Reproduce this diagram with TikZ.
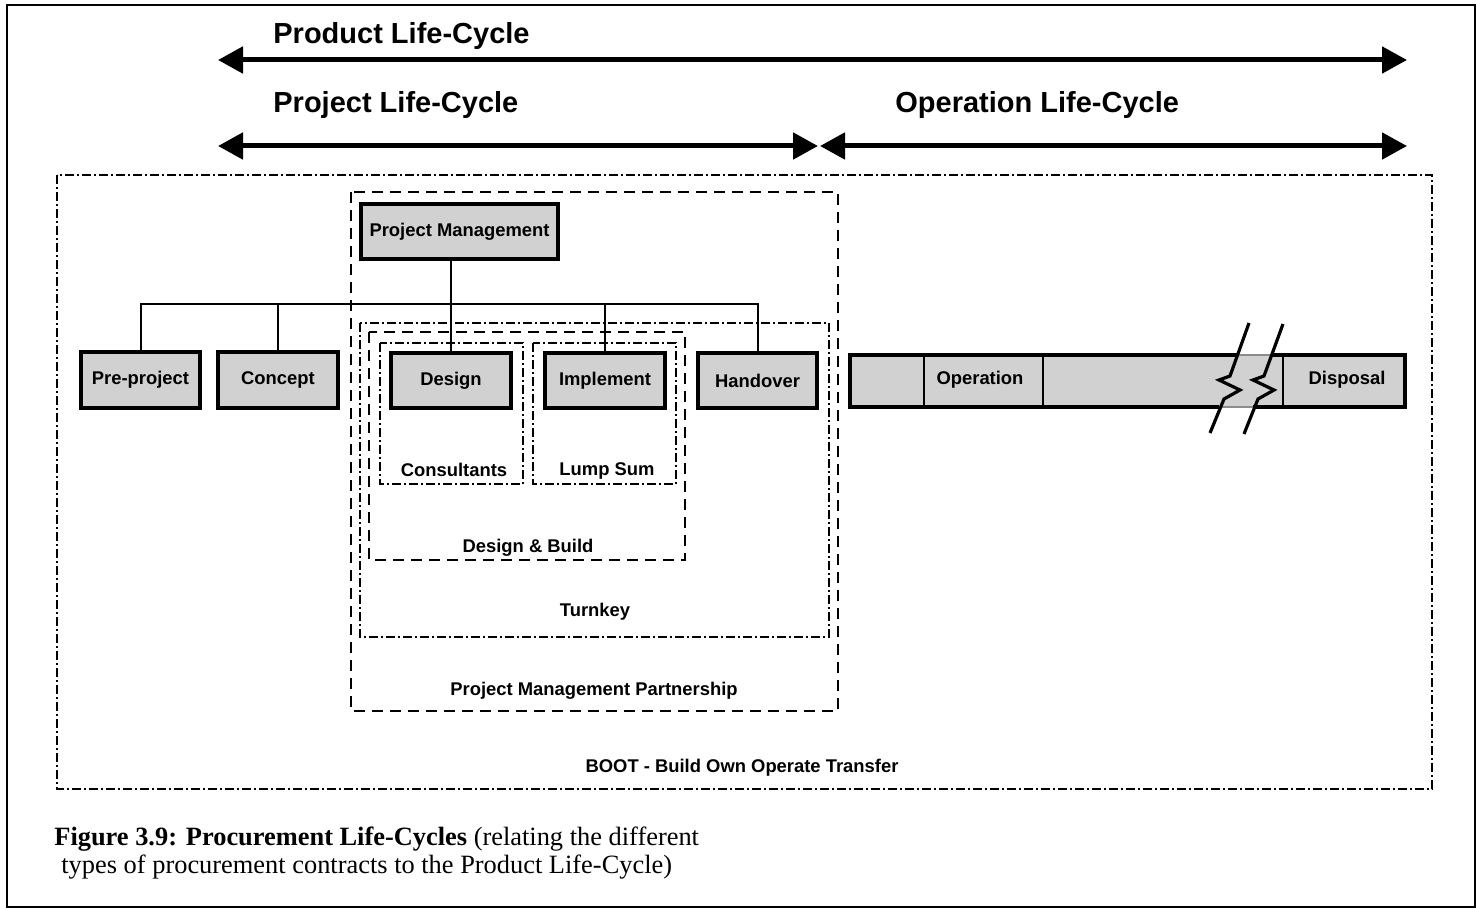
\documentclass[tikz,border=0pt]{standalone}
\usepackage{fontspec}
\setmainfont{Liberation Serif}
\newfontfamily\labelfont{Liberation Sans}
\usetikzlibrary{arrows.meta}
\begin{document}
\begin{tikzpicture}[x=0.5pt,y=-0.5pt,
  phase/.style={draw, line width=2pt, fill=black!18, inner sep=0pt,
    font=\labelfont\bfseries\fontsize{9.2}{11}\selectfont},
  lbl/.style={inner sep=0pt, font=\labelfont\bfseries\fontsize{9.2}{11}\selectfont},
  head/.style={inner sep=0pt, anchor=base west,
    font=\labelfont\bfseries\fontsize{14.5}{17}\selectfont},
  span/.style={line width=2.5pt,
    {Triangle[length=12.5pt,width=13pt]}-{Triangle[length=12.5pt,width=13pt]}},
  link/.style={line width=1pt},
  dashbox/.style={line width=1pt, dash pattern=on 5.5pt off 3.5pt},
  dotbox/.style={line width=1pt, dash pattern=on 4.5pt off 1.6pt on 0.8pt off 1.6pt},
  brk/.style={line width=1.6pt, line join=miter},
  capt/.style={inner sep=0pt, anchor=base west, font=\fontsize{13.2}{15}\selectfont},
]
\useasboundingbox (0,0) rectangle (1476,909);

% outer frame
\draw[line width=1pt] (7,5) rectangle (1474.5,907);

% life-cycle spans
\coordinate (prodL) at (218,60);  \coordinate (prodR) at (1407,60);
\coordinate (projL) at (218,146); \coordinate (projR) at (818,146);
\coordinate (operL) at (820,146); \coordinate (operR) at (1407,146);
\draw[span] (prodL) -- (prodR);
\draw[span] (projL) -- (projR);
\draw[span] (operL) -- (operR);
\node[head] (prodT) at (273,44)  {Product Life-Cycle};
\node[head] (projT) at (273,113) {Project Life-Cycle};
\node[head] (operT) at (895,113) {Operation Life-Cycle};

% contract envelopes
\draw[dotbox]  (57,175)  rectangle (1432,789);
\draw[dashbox] (351,192) rectangle (838,711);
\draw[dotbox]  (360,323) rectangle (829,637);
\draw[dashbox] (369,332) rectangle (685,560);
\draw[dotbox]  (380,343) rectangle (523,484);
\draw[dotbox]  (533,343) rectangle (676,484);

\node[lbl] (consult)  at (454,470) {Consultants};
\node[lbl] (lumpsum)  at (607,471) {Lump Sum};
\node[lbl] (dbuild)   at (528,548) {Design \& Build};
\node[lbl] (turnkey)  at (595,612) {Turnkey};
\node[lbl] (pmp)      at (594,691) {Project Management Partnership};
\node[lbl] (boot)     at (742,768) {BOOT - Build Own Operate Transfer};

% project phases
\node[phase, minimum width=98.5pt, minimum height=27.5pt] (pm)        at (459.5,231.5) {Project Management};
\node[phase, minimum width=59.5pt, minimum height=28pt]   (pre)       at (140.5,380)   {Pre-project};
\node[phase, minimum width=60pt,   minimum height=28pt]   (concept)   at (278,380)     {Concept};
\node[phase, minimum width=60pt,   minimum height=27.5pt] (design)    at (451,380.5)   {Design};
\node[phase, minimum width=60pt,   minimum height=27.5pt] (implement) at (605,380.5)   {Implement};
\node[phase, minimum width=59.5pt, minimum height=27.5pt] (handover)  at (757.5,380.5) {Handover};

% organisation links
\coordinate (bus) at (0,304);
\draw[link] (design.north) -- (design.north |- pm.south);
\draw[link] (pre.north) |- (bus -| handover.north) -- (handover.north);
\draw[link] (concept.north) -- (concept.north |- bus);
\draw[link] (implement.north) -- (implement.north |- bus);

% operation strip with break
\fill[black!18] (850,355) rectangle (1405,407);
\draw[line width=2pt] (1238,355) -- (850,355) -- (850,407) -- (1219,407);
\draw[line width=2pt] (1271,355) -- (1405,355) -- (1405,407) -- (1253,407);
\draw[line width=1pt, black!45] (1238,355) -- (1271,355) (1219,407) -- (1253,407);
\draw[line width=1pt] (924,355) -- (924,407) (1043,355) -- (1043,407) (1283,355) -- (1283,407);
\draw[brk] (1249,323) -- (1230,376) -- (1219,380) -- (1240,390) -- (1224,399) -- (1210,433);
\draw[brk] (1283,324) -- (1264,376) -- (1253,380) -- (1274,390) -- (1258,399) -- (1244,434);
\node[lbl] (operation) at (980,380)  {Operation};
\node[lbl] (disposal)  at (1347,380) {Disposal};

% caption
\node[capt] (cap1) at (54,845) {\textbf{Figure 3.9: Procurement Life-Cycles} (relating the different};
\node[capt] (cap2) at (61,873) {types of procurement contracts to the Product Life-Cycle)};
\end{tikzpicture}
\end{document}
